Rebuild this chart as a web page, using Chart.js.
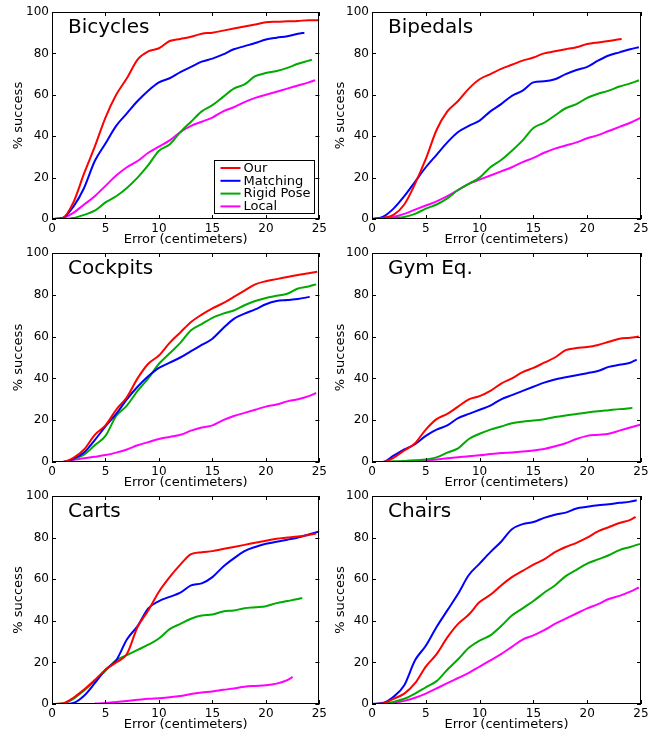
<!DOCTYPE html>
<html>
<head>
<meta charset="utf-8">
<script src="https://cdn.jsdelivr.net/npm/chart.js@4/dist/chart.umd.min.js"></script>
<style>
    html, body { margin: 0; padding: 0; background: #fff; }
    #wrap { position: relative; width: 667px; height: 732px; overflow: hidden; }
    #wrap canvas { position: absolute; }
</style>
</head>
<body>
<div id="wrap"></div>
<script>
// error grid (cm); the last value of each series sits at its own end x
const errorCm = [0,1,2,3,4,5,6,7,8,9,10,11,12,13,14,15,16,17,18,19,20,21,22,23,24,25];
const seriesNames = ["Our", "Matching", "Rigid Pose", "Local"];
const xTicks = [0, 5, 10, 15, 20, 25];
const yTicks = [0, 20, 40, 60, 80, 100];

// Bicycles
const bicyclesOur      = [0,0.5,8,22,35,49,60,68,77,81,82.5,86,87,88,89.5,90,91,92,93,94,95,95.3,95.5,95.7,96,96];
const bicyclesMatching = [0,0.5,6,15,28,36.5,45,51,57,62,66,68,71,73.5,76,77.5,79.5,82,83.5,85,86.7,87.6,88.3,89.5,90];
const bicyclesRigid    = [0,0,0.5,2,4,8,11,15,20,26,33,36,42,47,52,55,59,63,65,69,70.5,71.5,73,75,76.5,77];
const bicyclesLocal    = [0,0.5,3,7,11,16,21,25,28,32,35,38,42,45,47,49,52,54,56.5,58.5,60,61.5,63,64.5,66,67];
const bicyclesEnds     = [25, 23.6, 24.3, 24.6];

// Bipedals
const bipedalsOur      = [0,0.5,2,7,17,29,43,52,57,63,67.5,70,72.5,74.5,76.5,78,80,81,82,83,84.5,85.3,86,86.8,87];
const bipedalsMatching = [0,1,5,11,18,25,31,37,42,45,47.5,52,55.5,59.5,62,66,66.5,67.5,70,72,73.5,76.5,79,80.5,82,83];
const bipedalsRigid    = [0,0,0.5,1,2.5,5,7,10,14,17,20,25,28.5,33,38,44,46.5,50,53.5,55.5,58.5,60.5,62,64,65.5,67];
const bipedalsLocal    = [0,0.3,1,2.5,4.5,6.5,8.5,11,14,17,19,21,23,25,27.5,29.5,32,34,35.5,37,39,40.5,42.5,44.5,46.5,49];
const bipedalsEnds     = [23.2, 24.8, 24.8, 25];

// Cockpits
const cockpitsOur      = [0,0,2,6,13,17.5,25,31,40,47,51,57,62,67,70.5,73.5,76,79,82,85,86.5,87.5,88.5,89.5,90.3,91];
const cockpitsMatching = [0,0,1.5,4.5,10.5,17,23,30,36,41,45,47.5,50,53,56,59,64,68.5,71,73,75.5,77,77.5,78,79];
const cockpitsRigid    = [0,0,1.5,3.5,8,12.5,22,27,34,40,47,52,57,63,66,69,71,72.5,75,77,78.5,79.5,80.5,83,84,85];
const cockpitsLocal    = [0,0,1,1.8,2.5,3.3,4.5,6,8,9.5,11,12,13,15,16.5,17.5,20,22,23.5,25,26.5,27.5,29,30,31.5,33];
const cockpitsEnds     = [24.8, 24.1, 24.7, 24.7];

// Gym Eq.
const gymOur      = [0,0,2,5.5,9,15.5,20.5,23,26.5,30,31.5,34,37.5,40,43,45,47.5,50,53.5,54.5,55,56,57.5,59,59.5,60];
const gymMatching = [0,0,3,6,8.5,12.5,15.5,17.5,21,23,25,27,30,32,34,36,38,39.5,40.5,41.5,42.5,43.5,45.5,46.5,47.5,49];
const gymRigid    = [0,0,0.3,0.5,0.8,1.2,2.2,4.5,6.5,11,13.5,15.5,17,18.5,19.3,19.8,20.5,21.5,22.3,23,23.7,24.3,24.8,25.3,25.7,26];
const gymLocal    = [0,0,0,0.2,0.5,0.8,1.2,1.8,2.3,2.7,3.2,3.8,4.3,4.6,5,5.5,6.2,7.5,9,11,12.5,13,13.5,15,16.5,18];
const gymEnds     = [24.8, 24.6, 24.2, 25];

// Carts
const cartsOur      = [0,0.3,3,7,11.5,16.5,20,24,37,45,54,61,67,72,73,73.5,74.5,75.5,76.5,77.5,78.5,79.5,80,80.5,81.3,82];
const cartsMatching = [0,0,0.5,4,10,16.5,21,31,37.5,46,49.5,51.5,53.5,57,58,61,66,70,73.5,75.5,77,78,79,80,81.5,83];
const cartsRigid    = [0,0.3,2.5,6.5,11,16,21,23.5,26,28.5,31.5,36,38.5,41,42.5,43,44.5,45,46,46.5,47,48.5,49.5,50.5,51];
const cartsLocal    = [null,null,null,null,0.2,0.5,1,1.5,2,2.5,2.8,3.2,3.8,4.8,5.5,6,6.8,7.5,8.3,8.7,9,9.8,11.5,13];
const cartsEnds     = [24.7, 25, 23.4, 22.5];

// Chairs
const chairsOur      = [0,0.3,2.5,5,10,18,24,32,38.5,43,49,52.5,57,61,64,67,69.5,73,75.5,77.5,80,83,85,87,88.5,90];
const chairsMatching = [0,0.5,3.5,9,21,28,37,45,53,62,67.5,73,78,84,86.5,87.5,89.5,91,92,94,94.8,95.5,96,96.7,97.3,98];
const chairsRigid    = [0,0.2,1,2.5,5,8,11,16.5,21.5,27,30.5,33,37.5,42.5,46,49.5,53.5,57,61.5,64.5,67.5,69.5,71.5,74,75.5,77];
const chairsLocal    = [0,0,0.5,1.5,3,5,7.5,10,12.5,15,18,21,24,27.5,31,33,35.5,38.5,41,43.5,46,48,50.5,52,54,56];
const chairsEnds     = [24.5, 24.6, 24.9, 24.8];

const lineColors = ["#ff0000", "#0000ff", "#00aa00", "#ff00ff"];
const FONT = '"DejaVu Sans", sans-serif';

// panel grid: column/row boxes in page pixels
const columns = [
    { left: 0,   width: 330, yAxisW: 52, padRight: 10, yTitlePad: 11 },
    { left: 330, width: 337, yAxisW: 42, padRight: 26, yTitlePad: 3 }
];
const rows = [
    { top: 0,   plotH: 207 },
    { top: 241, plotH: 209 },
    { top: 484, plotH: 208 }
];
const PAD_TOP = 12, X_AXIS_H = 28;

const panels = [
    { title: "Bicycles", col: 0, row: 0, legend: true, series: [bicyclesOur, bicyclesMatching, bicyclesRigid, bicyclesLocal], ends: bicyclesEnds },
    { title: "Bipedals", col: 1, row: 0, series: [bipedalsOur, bipedalsMatching, bipedalsRigid, bipedalsLocal], ends: bipedalsEnds },
    { title: "Cockpits", col: 0, row: 1, series: [cockpitsOur, cockpitsMatching, cockpitsRigid, cockpitsLocal], ends: cockpitsEnds },
    { title: "Gym Eq.",  col: 1, row: 1, series: [gymOur, gymMatching, gymRigid, gymLocal], ends: gymEnds },
    { title: "Carts",    col: 0, row: 2, series: [cartsOur, cartsMatching, cartsRigid, cartsLocal], ends: cartsEnds },
    { title: "Chairs",   col: 1, row: 2, series: [chairsOur, chairsMatching, chairsRigid, chairsLocal], ends: chairsEnds }
];

// frame on all four sides with inward tick marks, panel name, optional legend box
const panelDecor = {
    id: "panelDecor",
    afterDatasetsDraw(chart, args, opts) {
        const { ctx, chartArea: a, scales: { x, y } } = chart;
        ctx.save();
        ctx.strokeStyle = "#000";
        ctx.lineWidth = 1;
        ctx.beginPath();
        xTicks.forEach(v => {
            const px = Math.round(x.getPixelForValue(v)) + 0.5;
            ctx.moveTo(px, a.bottom); ctx.lineTo(px, a.bottom - 4);
            ctx.moveTo(px, a.top);    ctx.lineTo(px, a.top + 4);
        });
        yTicks.forEach(v => {
            const py = Math.round(y.getPixelForValue(v)) + 0.5;
            ctx.moveTo(a.left, py);  ctx.lineTo(a.left + 4, py);
            ctx.moveTo(a.right, py); ctx.lineTo(a.right - 4, py);
        });
        ctx.stroke();
        ctx.strokeRect(Math.round(a.left) + 0.5, Math.round(a.top) + 0.5,
                       Math.round(a.width) - 1, Math.round(a.height) - 1);

        ctx.fillStyle = "#000";
        ctx.font = "20px " + FONT;
        ctx.textBaseline = "alphabetic";
        ctx.textAlign = "left";
        ctx.fillText(opts.title, a.left + 16, a.top + 20.5);

        if (opts.legend) {
            ctx.font = "13px " + FONT;
            const sets = chart.data.datasets;
            const textW = Math.max(...sets.map(d => ctx.measureText(d.label).width));
            const w = 6 + 20 + 3 + textW + 4, h = 53;
            const bx = Math.round(a.right - 5 - w) + 0.5, by = Math.round(a.bottom - 6 - h) + 0.5;
            ctx.fillStyle = "#fff";
            ctx.fillRect(bx, by, w, h);
            ctx.strokeRect(bx, by, w, h);
            ctx.textBaseline = "middle";
            sets.forEach((d, i) => {
                const cy = by + 7.5 + i * 12.8;
                ctx.strokeStyle = d.borderColor;
                ctx.lineWidth = 2;
                ctx.beginPath();
                ctx.moveTo(bx + 6, cy); ctx.lineTo(bx + 26, cy);
                ctx.stroke();
                ctx.fillStyle = "#000";
                ctx.fillText(d.label, bx + 29, cy + 0.5);
            });
        }
        ctx.restore();
    }
};

const wrap = document.getElementById("wrap");

panels.forEach(p => {
    const c = columns[p.col], r = rows[p.row];
    const canvas = document.createElement("canvas");
    const h = PAD_TOP + r.plotH + X_AXIS_H;
    canvas.width = c.width;
    canvas.height = h;
    canvas.style.left = c.left + "px";
    canvas.style.top = r.top + "px";
    wrap.appendChild(canvas);

    const datasets = p.series.map((vals, i) => ({
        label: seriesNames[i],
        data: vals.map((v, k) => ({ x: k === vals.length - 1 ? p.ends[i] : errorCm[k], y: v })),
        borderColor: lineColors[i],
        backgroundColor: lineColors[i],
        borderWidth: 2,
        pointRadius: 0,
        cubicInterpolationMode: "monotone",
        fill: false,
        spanGaps: false
    }));

    new Chart(canvas, {
        type: "line",
        data: { datasets },
        plugins: [panelDecor],
        options: {
            responsive: false,
            animation: false,
            events: [],
            layout: { padding: { top: PAD_TOP, right: c.padRight, left: 0, bottom: 0 } },
            plugins: {
                legend: { display: false },
                tooltip: { enabled: false },
                panelDecor: { title: p.title, legend: !!p.legend }
            },
            scales: {
                x: {
                    type: "linear",
                    min: 0, max: 25,
                    grid: { display: false, drawTicks: false },
                    border: { display: false },
                    afterFit: s => { s.height = X_AXIS_H; },
                    afterBuildTicks: s => { s.ticks = xTicks.map(v => ({ value: v })); },
                    ticks: { color: "#000", font: { family: FONT, size: 12 }, padding: 3, maxRotation: 0, autoSkip: false },
                    title: { display: true, text: "Error (centimeters)", color: "#000",
                             font: { family: FONT, size: 13 }, padding: { top: 0, bottom: 0 } }
                },
                y: {
                    type: "linear",
                    min: 0, max: 100,
                    grid: { display: false, drawTicks: false },
                    border: { display: false },
                    afterFit: s => { s.width = c.yAxisW; },
                    afterBuildTicks: s => { s.ticks = yTicks.map(v => ({ value: v })); },
                    ticks: { color: "#000", font: { family: FONT, size: 12 }, padding: 3, autoSkip: false },
                    title: { display: true, text: "% success", color: "#000",
                             font: { family: FONT, size: 13 }, padding: { top: c.yTitlePad, bottom: 0 } }
                }
            }
        }
    });
});
</script>
</body>
</html>
